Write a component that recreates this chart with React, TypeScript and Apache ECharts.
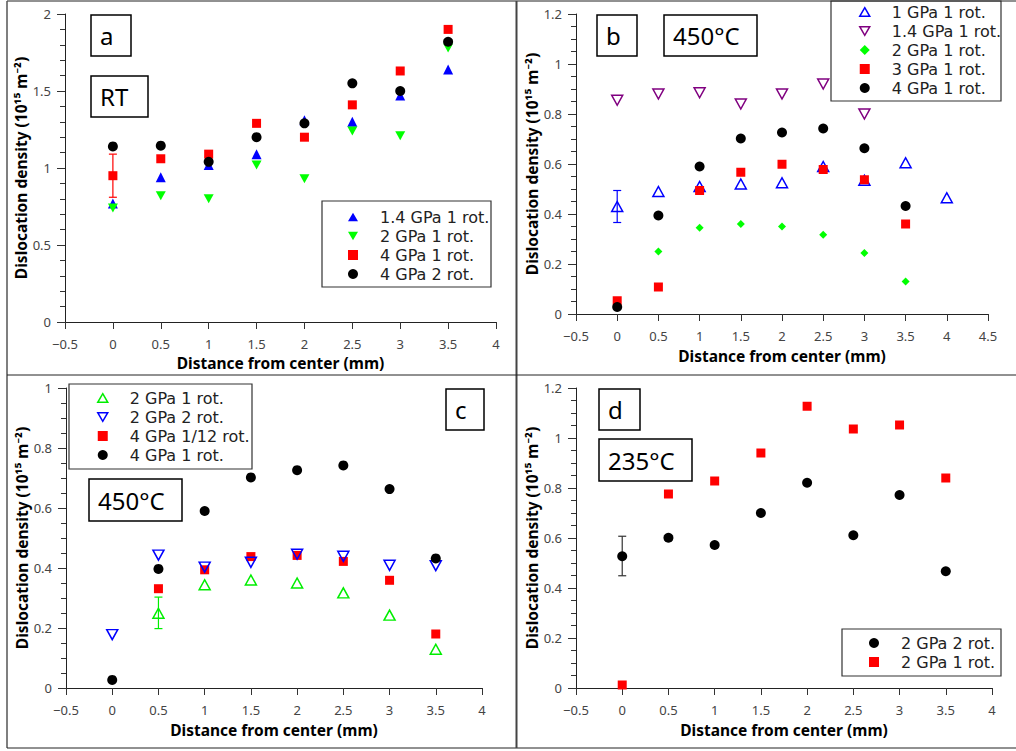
import React, { useEffect, useRef } from 'react';
import * as echarts from 'echarts';

const FONT = '"Noto Sans", "Open Sans", sans-serif';
const LEG_FONT = '"DejaVu Sans", "Noto Sans", sans-serif';

// ---------- data ----------
const X_FULL = [0, 0.5, 1, 1.5, 2, 2.5, 3, 3.5];
const X_B1 = [0, 0.5, 1, 1.5, 2, 2.5, 3, 3.5, 4];
const X_B14 = [0, 0.5, 1, 1.5, 2, 2.5, 3];
const X_HALF = [0.5, 1, 1.5, 2, 2.5, 3, 3.5];

// panel a (RT)
const A_14_1 = [0.77, 0.94, 1.02, 1.09, 1.31, 1.30, 1.47, 1.64];
const A_2_1 = [0.74, 0.82, 0.80, 1.02, 0.93, 1.24, 1.21, 1.78];
const A_4_1 = [0.95, 1.06, 1.09, 1.29, 1.20, 1.41, 1.63, 1.90];
const A_4_2 = [1.14, 1.145, 1.04, 1.20, 1.29, 1.55, 1.50, 1.82];
const A_ERR = [[0, 0.81, 1.09]];

// panel b (450°C)
const B_1_1 = [0.43, 0.49, 0.51, 0.52, 0.525, 0.59, 0.535, 0.605, 0.465];
const B_14_1 = [0.855, 0.88, 0.885, 0.84, 0.88, 0.92, 0.80];
const B_2_1 = [0.25, 0.345, 0.36, 0.35, 0.317, 0.244, 0.13];
const B_3_1 = [0.053, 0.108, 0.494, 0.567, 0.599, 0.578, 0.537, 0.36];
const B_4_1 = [0.028, 0.394, 0.59, 0.702, 0.726, 0.742, 0.663, 0.432];
const B_ERR = [[0, 0.366, 0.494]];

// panel c (450°C)
const C_2_1 = [0.249, 0.344, 0.36, 0.35, 0.317, 0.243, 0.129];
const C_2_2 = [0.178, 0.443, 0.403, 0.419, 0.446, 0.439, 0.409, 0.408];
const C_4_12 = [0.331, 0.394, 0.438, 0.442, 0.422, 0.359, 0.18];
const C_4_1 = [0.027, 0.397, 0.59, 0.702, 0.726, 0.742, 0.663, 0.432];
const C_ERR = [[0.5, 0.198, 0.303]];

// panel d (235°C)
const D_2_2 = [0.527, 0.601, 0.572, 0.70, 0.821, 0.611, 0.772, 0.467];
const D_2_1 = [0.012, 0.776, 0.828, 0.94, 1.127, 1.036, 1.052, 0.84];
const D_ERR = [[0, 0.449, 0.607]];

// ---------- styles ----------
const BLUE = '#0000ff';
const GREEN = '#00ee00';
const LIME = '#00ff00';
const RED = '#ff0000';
const BLACK = '#000000';
const PURPLE = '#800080';
const TRI_UP = 'path://M5,0L10,8.66L0,8.66Z';
const TRI_DOWN = 'path://M0,0L10,0L5,8.66Z';

const zip = (xs: number[], ys: number[]) => ys.map((y, i) => [xs[i], y]);

function scatter(name: string, xs: number[], ys: number[], idx: number, symbol: string, size: any, color: string, open = false, z = 2) {
  return {
    type: 'scatter',
    name,
    xAxisIndex: idx,
    yAxisIndex: idx,
    symbol,
    symbolSize: size,
    z,
    data: zip(xs, ys),
    itemStyle: open
      ? { color: 'rgba(0,0,0,0)', borderColor: color, borderWidth: 1.5, opacity: 1 }
      : { color, borderWidth: 0, opacity: 1 },
    emphasis: { disabled: true },
  };
}

function errorBars(data: number[][], idx: number, color: string) {
  return {
    type: 'custom',
    xAxisIndex: idx,
    yAxisIndex: idx,
    z: 1,
    data,
    renderItem: (params: any, api: any) => {
      const lo = api.coord([api.value(0), api.value(1)]);
      const hi = api.coord([api.value(0), api.value(2)]);
      const w = 4;
      const style = { stroke: color, lineWidth: 1.2 };
      return {
        type: 'group',
        children: [
          { type: 'line', shape: { x1: lo[0], y1: lo[1], x2: hi[0], y2: hi[1] }, style },
          { type: 'line', shape: { x1: lo[0] - w, y1: lo[1], x2: lo[0] + w, y2: lo[1] }, style },
          { type: 'line', shape: { x1: hi[0] - w, y1: hi[1], x2: hi[0] + w, y2: hi[1] }, style },
        ],
      };
    },
  };
}

function legItem(name: string, icon: string, color: string, open = false) {
  return {
    name,
    icon,
    itemStyle: open
      ? { color: 'rgba(0,0,0,0)', borderColor: color, borderWidth: 1.5, opacity: 1 }
      : { color, borderColor: color, borderWidth: 0, opacity: 1 },
  };
}

function legend(left: number, top: number, data: any[]) {
  return {
    left,
    top,
    orient: 'vertical',
    padding: 0,
    itemWidth: 10,
    itemHeight: 10,
    itemGap: 3,
    selectedMode: false,
    textStyle: { fontFamily: LEG_FONT, fontSize: 16, lineHeight: 16, color: '#222', padding: [0, 0, 0, 17] },
    data,
  };
}

const fmtX = (v: number) => (v < 0 ? '−' + Math.abs(v) : String(v));

function xAxis(idx: number, max: number, nameGap: number) {
  return {
    type: 'value',
    gridIndex: idx,
    min: -0.5,
    max,
    interval: 0.5,
    name: 'Distance from center (mm)',
    nameLocation: 'middle',
    nameGap,
    nameTextStyle: { fontFamily: FONT, fontSize: 15.5, fontWeight: 'bold', color: '#000' },
    axisLine: { onZero: false, lineStyle: { color: '#222', width: 1 } },
    axisTick: { show: true, inside: false, length: 7, lineStyle: { color: '#333' } },
    axisLabel: { margin: 15, fontFamily: FONT, fontSize: 13, color: '#444', formatter: fmtX },
    splitLine: { show: false },
  };
}

function yAxis(idx: number, max: number, interval: number, minorSplit: number, nameGap: number) {
  return {
    type: 'value',
    gridIndex: idx,
    min: 0,
    max,
    interval,
    name: 'Dislocation density (10¹⁵ m⁻²)',
    nameLocation: 'middle',
    nameGap,
    nameTextStyle: { fontFamily: FONT, fontSize: 15.5, fontWeight: 'bold', color: '#000' },
    axisLine: { show: true, onZero: false, lineStyle: { color: '#222', width: 1 } },
    axisTick: { show: true, inside: false, length: 8, lineStyle: { color: '#333' } },
    minorTick: { show: true, splitNumber: minorSplit, length: 5, lineStyle: { color: '#333' } },
    axisLabel: { margin: 14, fontFamily: FONT, fontSize: 13, color: '#444' },
    splitLine: { show: false },
    minorSplitLine: { show: false },
  };
}

function labelBox(x: number, y: number, w: number, h: number, text: string) {
  return [
    { type: 'rect', z: 50, shape: { x, y, width: w, height: h }, style: { fill: 'none', stroke: '#000', lineWidth: 1.5 } },
    {
      type: 'text', z: 51, x: x + 9, y: y + h / 2,
      style: { text, fontFamily: FONT, fontSize: 24, fill: '#000', verticalAlign: 'middle', align: 'left' },
    },
  ];
}

function box(x: number, y: number, w: number, h: number) {
  return { type: 'rect', z: 50, shape: { x, y, width: w, height: h }, style: { fill: 'none', stroke: '#333', lineWidth: 1.2 } };
}

function line(x1: number, y1: number, x2: number, y2: number, stroke: string, lineWidth: number) {
  return { type: 'line', z: 60, shape: { x1, y1, x2, y2 }, style: { stroke, lineWidth } };
}

export default function App() {
  const ref = useRef<HTMLDivElement>(null);
  useEffect(() => {
    if (!ref.current) return;
    const chart = echarts.init(ref.current, null, { renderer: 'svg' });
    const option: any = {
      animation: false,
      backgroundColor: '#fff',
      textStyle: { fontFamily: FONT },
      grid: [
        { left: 65, top: 14, width: 431, height: 308 },
        { left: 576, top: 14, width: 412, height: 300 },
        { left: 66, top: 388, width: 416, height: 300 },
        { left: 576, top: 388, width: 416, height: 300 },
      ],
      xAxis: [xAxis(0, 4, 33), xAxis(1, 4.5, 34), xAxis(2, 4, 34), xAxis(3, 4, 34)],
      yAxis: [
        yAxis(0, 2, 0.5, 5, 34),
        yAxis(1, 1.2, 0.2, 4, 36),
        yAxis(2, 1, 0.2, 4, 36),
        yAxis(3, 1.2, 0.2, 4, 36),
      ],
      legend: [
        legend(348, 209, [
          legItem('1.4 GPa 1 rot.', TRI_UP, BLUE),
          legItem('2 GPa 1 rot.', TRI_DOWN, LIME),
          legItem('4 GPa 1 rot.', 'rect', RED),
          legItem('4 GPa 2 rot.', 'circle', BLACK),
        ]),
        legend(859, 4, [
          legItem('1 GPa 1 rot.', TRI_UP, BLUE, true),
          legItem('1.4 GPa 1 rot.', TRI_DOWN, PURPLE, true),
          legItem('2 GPa 1 rot.', 'diamond', LIME),
          legItem('3 GPa 1 rot.', 'rect', RED),
          legItem('4 GPa 1 rot.', 'circle', BLACK),
        ]),
        legend(97, 390, [
          legItem('2 GPa 1 rot.', TRI_UP, GREEN, true),
          legItem('2 GPa 2 rot.', TRI_DOWN, BLUE, true),
          legItem('4 GPa 1/12 rot.', 'rect', RED),
          legItem('4 GPa 1 rot.', 'circle', BLACK),
        ]),
        legend(869, 635, [
          legItem('2 GPa 2 rot.', 'circle', BLACK),
          legItem('2 GPa 1 rot.', 'rect', RED),
        ]),
      ],
      series: [
        // a
        errorBars(A_ERR, 0, RED),
        scatter('1.4 GPa 1 rot.', X_FULL, A_14_1, 0, 'triangle', 10, BLUE),
        scatter('2 GPa 1 rot.', X_FULL, A_2_1, 0, TRI_DOWN, [10, 9], LIME),
        scatter('4 GPa 1 rot.', X_FULL, A_4_1, 0, 'rect', 9, RED),
        scatter('4 GPa 2 rot.', X_FULL, A_4_2, 0, 'circle', 10, BLACK),
        // b
        errorBars(B_ERR, 1, BLUE),
        scatter('1 GPa 1 rot.', X_B1, B_1_1, 1, TRI_UP, [11, 10], BLUE, true),
        scatter('1.4 GPa 1 rot.', X_B14, B_14_1, 1, TRI_DOWN, [11, 10], PURPLE, true),
        scatter('2 GPa 1 rot.', X_HALF, B_2_1, 1, 'diamond', 8, LIME),
        scatter('3 GPa 1 rot.', X_FULL, B_3_1, 1, 'rect', 9, RED),
        scatter('4 GPa 1 rot.', X_FULL, B_4_1, 1, 'circle', 10, BLACK),
        // c
        errorBars(C_ERR, 2, GREEN),
        scatter('2 GPa 1 rot.', X_HALF, C_2_1, 2, TRI_UP, [11, 10], GREEN, true),
        scatter('4 GPa 1/12 rot.', X_HALF, C_4_12, 2, 'rect', 9, RED),
        scatter('2 GPa 2 rot.', X_FULL, C_2_2, 2, TRI_DOWN, [11, 10], BLUE, true, 3),
        scatter('4 GPa 1 rot.', X_FULL, C_4_1, 2, 'circle', 10, BLACK, false, 4),
        // d
        errorBars(D_ERR, 3, '#333'),
        scatter('2 GPa 2 rot.', X_FULL, D_2_2, 3, 'circle', 10, BLACK),
        scatter('2 GPa 1 rot.', X_FULL, D_2_1, 3, 'rect', 9, RED),
      ],
      graphic: [
        // frame & dividers
        line(7, 1, 1016, 1, '#222', 1),
        line(7, 1, 7, 748, '#555', 1.5),
        line(7, 748, 1016, 748, '#222', 1),
        line(516.5, 1, 516.5, 748, '#444', 2),
        line(7, 375, 1016, 375, '#222', 1),
        // label boxes
        ...labelBox(91, 15, 40, 41, 'a'),
        ...labelBox(91, 76, 57, 41, 'RT'),
        ...labelBox(597, 15, 40, 41, 'b'),
        ...labelBox(664, 15, 93, 41, '450°C'),
        ...labelBox(446, 389, 38, 41, 'c'),
        ...labelBox(89, 479, 93, 42, '450°C'),
        ...labelBox(599, 389, 41, 41, 'd'),
        ...labelBox(599, 439, 93, 42, '235°C'),
        // legend boxes
        box(322, 201, 169, 86),
        box(831, 1, 170, 100),
        box(69, 384, 183, 85),
        box(842, 629, 159, 47),
      ],
    };
    chart.setOption(option);
    return () => chart.dispose();
  }, []);
  return <div ref={ref} style={{ position: 'absolute', left: 0, top: 0, width: 1016, height: 751 }} />;
}
